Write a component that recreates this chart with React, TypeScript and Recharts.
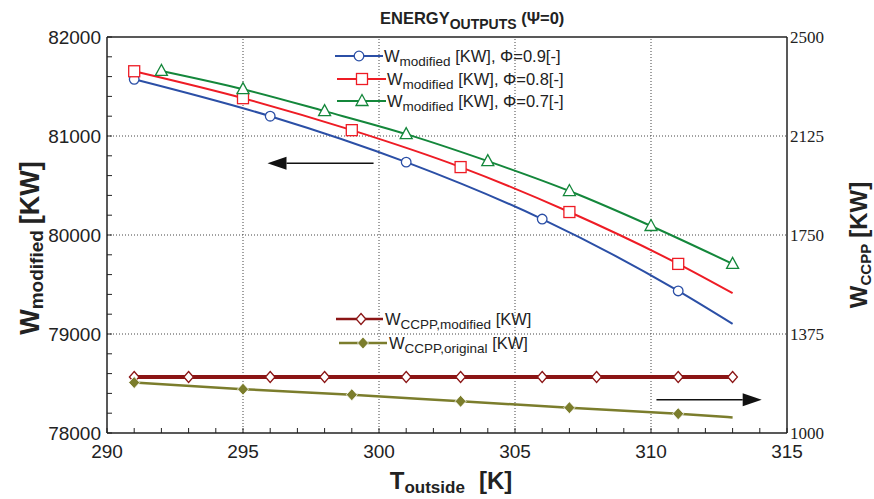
import React from "react";
import {
  ComposedChart,
  Line,
  XAxis,
  YAxis,
  ReferenceLine,
  Legend
} from "recharts";

// W_modified, three phi values (left axis)
const tPhi09 = [291, 296, 301, 306, 311, 313];
const wPhi09 = [81573, 81200, 80736, 80161, 79435, 79102];
const tPhi08 = [291, 295, 299, 303, 307, 311, 313];
const wPhi08 = [81654, 81382, 81059, 80686, 80232, 79708, 79412];
const tPhi07 = [292, 295, 298, 301, 304, 307, 310, 313];
const wPhi07 = [81657, 81473, 81251, 81019, 80746, 80444, 80091, 79708];

// W_CCPP (right axis)
const tCcppMod = [291, 293, 296, 298, 301, 303, 306, 308, 311, 313];
const wCcppMod = [1212, 1212, 1212, 1212, 1212, 1212, 1212, 1212, 1212, 1212];
const tCcppOrig = [291, 295, 299, 303, 307, 311, 313];
const wCcppOrig = [1191, 1166, 1145, 1120, 1096, 1073, 1059];

// ticks
const xTickLabels = [290, 295, 300, 305, 310, 315];
const xMinorTicks = [
  290, 291, 292, 293, 294, 295, 296, 297, 298, 299, 300, 301, 302,
  303, 304, 305, 306, 307, 308, 309, 310, 311, 312, 313, 314, 315
];
const yLeftTickLabels = [78000, 79000, 80000, 81000, 82000];
const yLeftMinorTicks = [
  78000, 78200, 78400, 78600, 78800, 79000, 79200, 79400, 79600, 79800,
  80000, 80200, 80400, 80600, 80800, 81000, 81200, 81400, 81600, 81800, 82000
];
const yRightTickLabels = [1000, 1375, 1750, 2125, 2500];
const xGrid = [295, 300, 305, 310];
const yGrid = [79000, 80000, 81000];

// arrows pointing to each axis
const leftArrow = [{ x: 299.8, y: 80726 }, { x: 295.9, y: 80726 }];
const rightArrow = [{ x: 310.2, y: 1126 }, { x: 314.07, y: 1126 }];

const toRows = (t: number[], w: number[]) => t.map((x, i) => ({ x, w: w[i] }));

const BLUE = "#2b4fa6";
const RED = "#ee1c25";
const GREEN = "#14873b";
const DARKRED = "#8b1515";
const OLIVE = "#7b7d2c";
const SANS = "'Liberation Sans', Arial, sans-serif";
const SERIF = "'Liberation Serif', 'Times New Roman', serif";

function Marker({ cx, cy, shape, color }: any) {
  switch (shape) {
    case "circle":
      return <circle cx={cx} cy={cy} r={4.8} fill="#fff" stroke={color} strokeWidth={1.3} />;
    case "square":
      return <rect x={cx - 5.5} y={cy - 5.5} width={11} height={11} fill="#fff" stroke={color} strokeWidth={1.3} />;
    case "triangle":
      return (
        <polygon
          points={`${cx},${cy - 6.5} ${cx - 6},${cy + 4.5} ${cx + 6},${cy + 4.5}`}
          fill="#fff" stroke={color} strokeWidth={1.3}
        />
      );
    case "diamond":
      return (
        <polygon
          points={`${cx},${cy - 5.5} ${cx + 4.8},${cy} ${cx},${cy + 5.5} ${cx - 4.8},${cy}`}
          fill="#fff" stroke={color} strokeWidth={1.3}
        />
      );
    case "fdiamond":
      return (
        <polygon
          points={`${cx},${cy - 6} ${cx + 5.5},${cy} ${cx},${cy + 6} ${cx - 5.5},${cy}`}
          fill={color} stroke="#fff" strokeWidth={0.8}
        />
      );
  }
  return null;
}

const dotFor = (shape: string, color: string, n: number, lastMarker: boolean) => (p: any) => {
  if (!lastMarker && p.index === n - 1) return <g key={p.index} />;
  return (
    <g key={p.index}>
      <Marker cx={p.cx} cy={p.cy} shape={shape} color={color} />
    </g>
  );
};

function BottomTick({ x, y, payload }: any) {
  const v = payload.value;
  return (
    <g>
      <line x1={x} y1={y} x2={x} y2={y - 5} stroke="#222" strokeWidth={1} />
      {xTickLabels.includes(v) && (
        <text x={x} y={y + 25} textAnchor="middle" fontFamily={SANS} fontSize={19} fill="#222">
          {v}
        </text>
      )}
    </g>
  );
}

function TopTick({ x, y }: any) {
  return <line x1={x} y1={y} x2={x} y2={y + 5} stroke="#222" strokeWidth={1} />;
}

function LeftTick({ x, y, payload }: any) {
  const v = payload.value;
  return (
    <g>
      <line x1={x} y1={y} x2={x + 5} y2={y} stroke="#222" strokeWidth={1} />
      {yLeftTickLabels.includes(v) && (
        <text x={x - 6} y={y + 7} textAnchor="end" fontFamily={SANS} fontSize={19} fill="#222">
          {v}
        </text>
      )}
    </g>
  );
}

function RightTick({ x, y, payload }: any) {
  return (
    <text x={x + 3} y={y + 6} textAnchor="start" fontFamily={SERIF} fontSize={17} fill="#222">
      {payload.value}
    </text>
  );
}

function Arrow(props: any) {
  const { x1, y1, x2, y2 } = props;
  const dir = x2 > x1 ? 1 : -1;
  const base = x2 - dir * 19;
  return (
    <g>
      <line x1={x1} y1={y1} x2={base} y2={y2} stroke="#111" strokeWidth={1.5} />
      <polygon points={`${x2},${y2} ${base},${y2 - 6.5} ${base},${y2 + 6.5}`} fill="#111" />
    </g>
  );
}

function LegendRow({ y, x0, x1, mx, tx, color, shape, sub, rest, width }: any) {
  return (
    <g>
      <line x1={x0} y1={y} x2={x1} y2={y} stroke={color} strokeWidth={width} />
      <Marker cx={mx} cy={y} shape={shape} color={color} />
      <text x={tx} y={y + 6} fontFamily={SANS} fontSize={16.5} fill="#222">
        W
        <tspan fontSize={13.5} dy={4}>{sub}</tspan>
        <tspan fontSize={16.5} dy={-4}>{rest}</tspan>
      </text>
    </g>
  );
}

function LegendBox() {
  return (
    <svg width={874} height={499} style={{ position: "absolute", left: 0, top: 0 }}>
      <LegendRow y={56} x0={335} x1={383} mx={359} tx={384} color={BLUE} shape="circle" sub="modified" rest=" [KW], Φ=0.9[-]" width={2} />
      <LegendRow y={79} x0={337} x1={386} mx={362} tx={387} color={RED} shape="square" sub="modified" rest=" [KW], Φ=0.8[-]" width={2} />
      <LegendRow y={101} x0={337} x1={386} mx={362} tx={387} color={GREEN} shape="triangle" sub="modified" rest=" [KW], Φ=0.7[-]" width={2} />
      <LegendRow y={319} x0={336} x1={383} mx={361} tx={385} color={DARKRED} shape="diamond" sub="CCPP,modified" rest=" [KW]" width={2.5} />
      <LegendRow y={343} x0={339} x1={387} mx={363} tx={389} color={OLIVE} shape="fdiamond" sub="CCPP,original" rest=" [KW]" width={2.5} />
    </svg>
  );
}

export default function App() {
  return (
    <div style={{ position: "absolute", left: 0, top: 0, width: 874, height: 499, background: "#fff" }}>
      <ComposedChart width={874} height={499} margin={{ top: 27, right: 27, bottom: 36, left: 47 }}>
        <XAxis
          xAxisId="b" type="number" dataKey="x" domain={[290, 315]} ticks={xMinorTicks}
          interval={0} height={30} tickSize={0} tickMargin={0} tickLine={false}
          tick={<BottomTick />} axisLine={{ stroke: "#222", strokeWidth: 1.5 }}
        />
        <XAxis
          xAxisId="t" type="number" orientation="top" domain={[290, 315]} ticks={xMinorTicks}
          interval={0} height={10} tickSize={0} tickMargin={0} tickLine={false}
          tick={<TopTick />} axisLine={{ stroke: "#222", strokeWidth: 1.5 }}
        />
        <YAxis
          yAxisId="l" type="number" domain={[78000, 82000]} ticks={yLeftMinorTicks}
          interval={0} width={60} tickSize={0} tickMargin={0} tickLine={false}
          tick={<LeftTick />} axisLine={{ stroke: "#222", strokeWidth: 1.5 }}
        />
        <YAxis
          yAxisId="r" type="number" orientation="right" domain={[1000, 2500]} ticks={yRightTickLabels}
          interval={0} width={60} tickSize={0} tickMargin={0} tickLine={false}
          tick={<RightTick />} axisLine={{ stroke: "#222", strokeWidth: 1.5 }}
        />

        {xGrid.map((v) => (
          <ReferenceLine key={"gx" + v} xAxisId="b" yAxisId="l" x={v} stroke="#444" strokeDasharray="1 2" />
        ))}
        {yGrid.map((v) => (
          <ReferenceLine key={"gy" + v} xAxisId="b" yAxisId="l" y={v} stroke="#444" strokeDasharray="1 2" />
        ))}

        <ReferenceLine xAxisId="b" yAxisId="l" segment={leftArrow} shape={Arrow} />
        <ReferenceLine xAxisId="b" yAxisId="r" segment={rightArrow} shape={Arrow} />

        <Line xAxisId="b" yAxisId="l" data={toRows(tPhi09, wPhi09)} dataKey="w" type="monotone"
          stroke={BLUE} strokeWidth={2} dot={dotFor("circle", BLUE, tPhi09.length, false)}
          activeDot={false} isAnimationActive={false} />
        <Line xAxisId="b" yAxisId="l" data={toRows(tPhi08, wPhi08)} dataKey="w" type="monotone"
          stroke={RED} strokeWidth={2} dot={dotFor("square", RED, tPhi08.length, false)}
          activeDot={false} isAnimationActive={false} />
        <Line xAxisId="b" yAxisId="l" data={toRows(tPhi07, wPhi07)} dataKey="w" type="monotone"
          stroke={GREEN} strokeWidth={2} dot={dotFor("triangle", GREEN, tPhi07.length, true)}
          activeDot={false} isAnimationActive={false} />
        <Line xAxisId="b" yAxisId="r" data={toRows(tCcppMod, wCcppMod)} dataKey="w" type="linear"
          stroke={DARKRED} strokeWidth={4} dot={dotFor("diamond", DARKRED, tCcppMod.length, true)}
          activeDot={false} isAnimationActive={false} />
        <Line xAxisId="b" yAxisId="r" data={toRows(tCcppOrig, wCcppOrig)} dataKey="w" type="monotone"
          stroke={OLIVE} strokeWidth={2.5} dot={dotFor("fdiamond", OLIVE, tCcppOrig.length, false)}
          activeDot={false} isAnimationActive={false} />

        <Legend
          layout="horizontal" align="center" verticalAlign="middle"
          content={() => <LegendBox />}
          wrapperStyle={{ position: "absolute", left: 0, top: 0, width: 874, height: 499, pointerEvents: "none" }}
        />
      </ComposedChart>

      <svg width={874} height={499} style={{ position: "absolute", left: 0, top: 0, pointerEvents: "none" }}>
        <text x={380} y={24} fontFamily={SANS} fontWeight="bold" fontSize={16.5} fill="#222">
          ENERGY
          <tspan fontSize={14} dy={5}>OUTPUTS</tspan>
          <tspan fontSize={16.5} dy={-5}> (Ψ=0)</tspan>
        </text>
        <text transform="translate(39,248) rotate(-90)" textAnchor="middle" fontFamily={SANS} fontWeight="bold" fontSize={27} fill="#222">
          W
          <tspan fontSize={19} dy={4}>modified</tspan>
          <tspan fontSize={27} dy={-4} dx={6}>[KW]</tspan>
        </text>
        <text x={451} y={489} textAnchor="middle" fontFamily={SANS} fontWeight="bold" fontSize={24} fill="#222">
          T
          <tspan fontSize={17} dy={4}>outside</tspan>
          <tspan fontSize={24} dy={-4} dx={14}>[K]</tspan>
        </text>
        <text transform="translate(867,245) rotate(-90)" textAnchor="middle" fontFamily={SANS} fontWeight="bold" fontSize={24} fill="#222">
          W
          <tspan fontSize={15} dy={4}>CCPP</tspan>
          <tspan fontSize={24} dy={-4} dx={6}>[KW]</tspan>
        </text>
      </svg>
    </div>
  );
}
